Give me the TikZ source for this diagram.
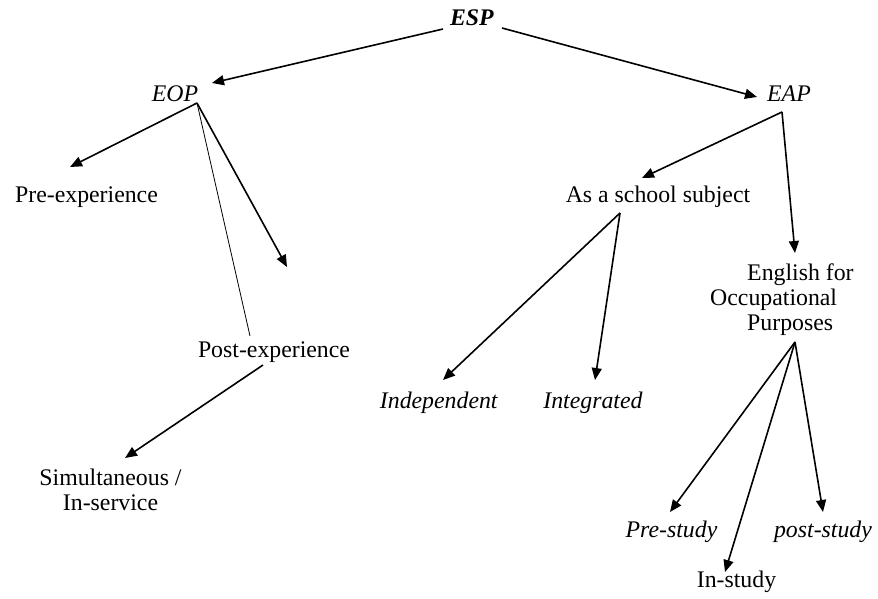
\documentclass[tikz,border=0pt]{standalone}
\usepackage{fontspec}
\setmainfont{Liberation Serif}
\usetikzlibrary{arrows.meta}
\begin{document}
\begin{tikzpicture}[x=1pt,y=-1pt,
  txt/.style={font=\fontsize{23.8}{25}\selectfont, inner sep=0pt, anchor=base},
  arr/.style={-{Triangle[length=12pt,width=10pt]}, line width=1.6pt},
  thinline/.style={line width=0.8pt}]
\useasboundingbox (0,0) rectangle (878,598);
\fill[white] (0,0) rectangle (878,598);
% nodes
\node[txt] (esp) at (472,25) {\textbf{\textit{ESP}}};
\node[txt] (eop) at (175,101) {\textit{EOP}};
\node[txt] (eap) at (789,101) {\textit{EAP}};
\node[txt] (pre) at (86.5,202) {Pre-experience};
\node[txt] (school) at (658,202) {As a school subject};
\node[txt] (post) at (274,357) {Post-experience};
\node[txt] (indep) at (439,408) {\textit{Independent}};
\node[txt] (integ) at (593,408) {\textit{Integrated}};
\node[txt, align=center] (simul) at (110.5,510) {Simultaneous /\\In-service};
\node[txt, align=left, anchor=base west] (eng) at (710,330) {\hspace*{37pt}English for\\Occupational\\\hspace*{37pt}Purposes};
\node[txt] (prest) at (671.5,537) {\textit{Pre-study}};
\node[txt] (postst) at (823,537) {\textit{post-study}};
\node[txt] (inst) at (736.5,587) {In-study};
% connector points
\coordinate (espL) at (443,29);
\coordinate (espR) at (502,28);
\coordinate (eopT) at (212,83);
\coordinate (eapT) at (757,97);
\coordinate (eopB) at (197,103);
\coordinate (preT) at (70,167);
\coordinate (danglT) at (287,267);
\coordinate (postT) at (250,336);
\coordinate (postB) at (263,365);
\coordinate (simT) at (125,458);
\coordinate (eapB) at (782,112);
\coordinate (schT) at (642,178);
\coordinate (engT) at (795,253);
\coordinate (schB) at (620,213);
\coordinate (indT) at (443,380);
\coordinate (intT) at (595,380);
\coordinate (purB) at (795,342);
\coordinate (prsT) at (670,512);
\coordinate (insT) at (725,572);
\coordinate (pssT) at (823,512);
% connectors
\draw[arr] (espL) -- (eopT);
\draw[arr] (espR) -- (eapT);
\draw[arr] (eopB) -- (preT);
\draw[arr] (eopB) -- (danglT);
\draw[thinline] (eopB) -- (postT);
\draw[arr] (postB) -- (simT);
\draw[arr] (eapB) -- (schT);
\draw[arr] (eapB) -- (engT);
\draw[arr] (schB) -- (indT);
\draw[arr] (schB) -- (intT);
\draw[arr] (purB) -- (prsT);
\draw[arr] (purB) -- (insT);
\draw[arr] (purB) -- (pssT);
\end{tikzpicture}
\end{document}
